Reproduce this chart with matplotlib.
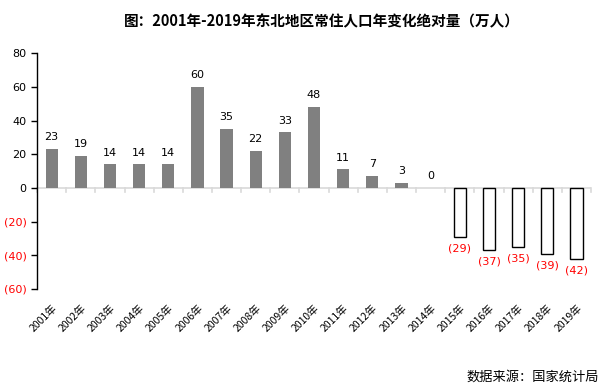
import matplotlib.pyplot as plt
from matplotlib.ticker import FuncFormatter

plt.rcParams['font.family'] = ['Noto Sans CJK SC', 'DejaVu Sans']

# data
years = [f"{y}年" for y in range(2001, 2020)]
change = [23, 19, 14, 14, 14, 60, 35, 22, 33, 48, 11, 7, 3, 0, -29, -37, -35, -39, -42]
yticks = [80, 60, 40, 20, 0, -20, -40, -60]

fig = plt.figure(figsize=(6.08, 3.91), dpi=100)
ax = fig.add_axes([0.061, 0.261, 0.911, 0.603])

x = list(range(len(years)))
pos_vals = [v if v > 0 else 0 for v in change]
neg_vals = [v if v < 0 else 0 for v in change]
ax.bar(x, pos_vals, width=0.42, color='#808080', zorder=2)
ax.bar([i for i in x if change[i] < 0], [v for v in change if v < 0],
       width=0.42, facecolor='white', edgecolor='black', linewidth=1, zorder=2)

for i, v in enumerate(change):
    if v >= 0:
        ax.text(i, v + 4, str(v), ha='center', va='bottom', fontsize=8,
                family='DejaVu Sans', color='black')
    else:
        ax.text(i, v - 4, f"({-v})", ha='center', va='top', fontsize=8,
                family='DejaVu Sans', color='red')

ax.set_xlim(-0.5, len(years) - 0.5)
ax.set_ylim(-60, 80)
ax.set_yticks(yticks)
ax.yaxis.set_major_formatter(FuncFormatter(lambda v, p: f"({int(-v)})" if v < 0 else f"{int(v)}"))
for lab, v in zip(ax.get_yticklabels(), yticks):
    pass
ax.tick_params(axis='y', labelsize=8, length=4, width=1, direction='out')
fig.canvas.draw()
for lab in ax.get_yticklabels():
    if lab.get_text().startswith('('):
        lab.set_color('red')
    lab.set_family('DejaVu Sans')

for s in ['top', 'right', 'bottom']:
    ax.spines[s].set_visible(False)
ax.spines['left'].set_linewidth(1)

# category axis at zero
ax.axhline(0, color='#d9d9d9', linewidth=1.2, zorder=1)
ax.set_xticks(x)
ax.set_xticklabels(years, rotation=45, ha='right', rotation_mode='anchor', fontsize=7.5)
ax.tick_params(axis='x', length=0, pad=10)
for b in [i - 0.5 for i in range(len(years) + 1)]:
    ax.plot([b, b], [0, -2.2], color='#d9d9d9', linewidth=1.2, zorder=1, clip_on=False)

fig.text(0.53, 0.945, "图：2001年-2019年东北地区常住人口年变化绝对量（万人）",
         ha='center', va='center', fontsize=10.5, fontweight='bold')
fig.text(0.985, 0.035, "数据来源：国家统计局", ha='right', va='center', fontsize=9.5)

fig.savefig('out.png', dpi=100)
